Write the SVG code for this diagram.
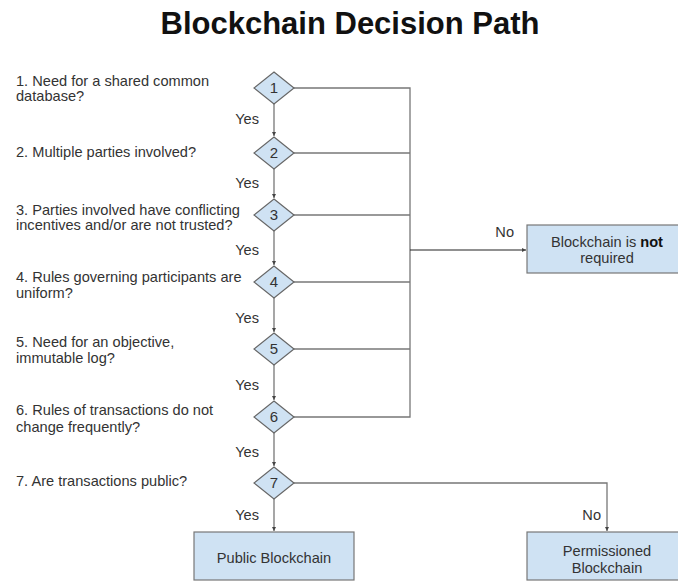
<svg xmlns="http://www.w3.org/2000/svg" width="678" height="581" viewBox="0 0 678 581">
<defs>
<marker id="arr" viewBox="0 0 6 6" refX="6" refY="3" markerWidth="4" markerHeight="4" orient="auto" markerUnits="userSpaceOnUse"><path d="M0,0 L6,3 L0,6 z" fill="#444"/></marker>
<style>
text{font-family:"Liberation Sans",Arial,sans-serif;fill:#333;}
.t{font-size:31px;font-weight:bold;fill:#111;}
.q{font-size:14.6px;}
.l{font-size:14.6px;text-anchor:end;}
.c{font-size:14.6px;text-anchor:middle;}
.d{fill:#cfe2f3;stroke:#666;stroke-width:1.2;}
.b{fill:#cfe2f3;stroke:#777;stroke-width:1.2;}
.n{font-size:15px;text-anchor:middle;}
.e{fill:none;stroke:#777;stroke-width:1.3;}
.k{fill:none;stroke:#222;stroke-width:1.2;}
</style>
</defs>
<rect width="678" height="581" fill="#fff"/>
<text class="t" x="350" y="34" text-anchor="middle">Blockchain Decision Path</text>

<g id="questions">
<text class="q" x="16" y="86">1. Need for a shared common</text>
<text class="q" x="16" y="101">database?</text>
<text class="q" x="16" y="157">2. Multiple parties involved?</text>
<text class="q" x="16" y="215">3. Parties involved have conflicting</text>
<text class="q" x="16" y="230">incentives and/or are not trusted?</text>
<text class="q" x="16" y="282">4. Rules governing participants are</text>
<text class="q" x="16" y="298">uniform?</text>
<text class="q" x="16" y="347">5. Need for an objective,</text>
<text class="q" x="16" y="363">immutable log?</text>
<text class="q" x="16" y="415">6. Rules of transactions do not</text>
<text class="q" x="16" y="432">change frequently?</text>
<text class="q" x="16" y="486">7. Are transactions public?</text>
</g>

<g id="connectors">
<path class="e" d="M274,104 V136" marker-end="url(#arr)"/>
<path class="e" d="M274,169 V198" marker-end="url(#arr)"/>
<path class="e" d="M274,231 V265" marker-end="url(#arr)"/>
<path class="e" d="M274,298 V332" marker-end="url(#arr)"/>
<path class="e" d="M274,365 V400" marker-end="url(#arr)"/>
<path class="e" d="M274,433 V466" marker-end="url(#arr)"/>
<path class="e" d="M274,499 V531" marker-end="url(#arr)"/>
<path class="e" d="M294,88 H410 V417 H294"/>
<path class="e" d="M294,153 H410"/>
<path class="e" d="M294,215 H410"/>
<path class="e" d="M294,282 H410"/>
<path class="e" d="M294,349 H410"/>
<path class="k" d="M410,250 H526" marker-end="url(#arr)"/>
<path class="e" d="M294,483 H607 V531" marker-end="url(#arr)"/>
<text class="l" x="259" y="124">Yes</text>
<text class="l" x="259" y="188">Yes</text>
<text class="l" x="259" y="255">Yes</text>
<text class="l" x="259" y="323">Yes</text>
<text class="l" x="259" y="390">Yes</text>
<text class="l" x="259" y="457">Yes</text>
<text class="l" x="259" y="520">Yes</text>
<text class="l" x="514" y="237">No</text>
<text class="l" x="601" y="520">No</text>
</g>

<g id="d1"><polygon class="d" points="274,72 294,88 274,104 254,88"/><text class="n" x="274" y="93">1</text></g>
<g id="d2"><polygon class="d" points="274,137 294,153 274,169 254,153"/><text class="n" x="274" y="158">2</text></g>
<g id="d3"><polygon class="d" points="274,199 294,215 274,231 254,215"/><text class="n" x="274" y="220">3</text></g>
<g id="d4"><polygon class="d" points="274,266 294,282 274,298 254,282"/><text class="n" x="274" y="287">4</text></g>
<g id="d5"><polygon class="d" points="274,333 294,349 274,365 254,349"/><text class="n" x="274" y="354">5</text></g>
<g id="d6"><polygon class="d" points="274,401 294,417 274,433 254,417"/><text class="n" x="274" y="422">6</text></g>
<g id="d7"><polygon class="d" points="274,467 294,483 274,499 254,483"/><text class="n" x="274" y="488">7</text></g>

<g id="notRequired"><rect class="b" x="527" y="225" width="160" height="48"/><text class="c" x="607" y="247">Blockchain is <tspan font-weight="bold" fill="#111">not</tspan></text><text class="c" x="607" y="263">required</text></g>
<g id="public"><rect class="b" x="194" y="532" width="160" height="48"/><text class="c" x="274" y="563">Public Blockchain</text></g>
<g id="permissioned"><rect class="b" x="527" y="532" width="160" height="48"/><text class="c" x="607" y="556">Permissioned</text><text class="c" x="607" y="573">Blockchain</text></g>
</svg>
